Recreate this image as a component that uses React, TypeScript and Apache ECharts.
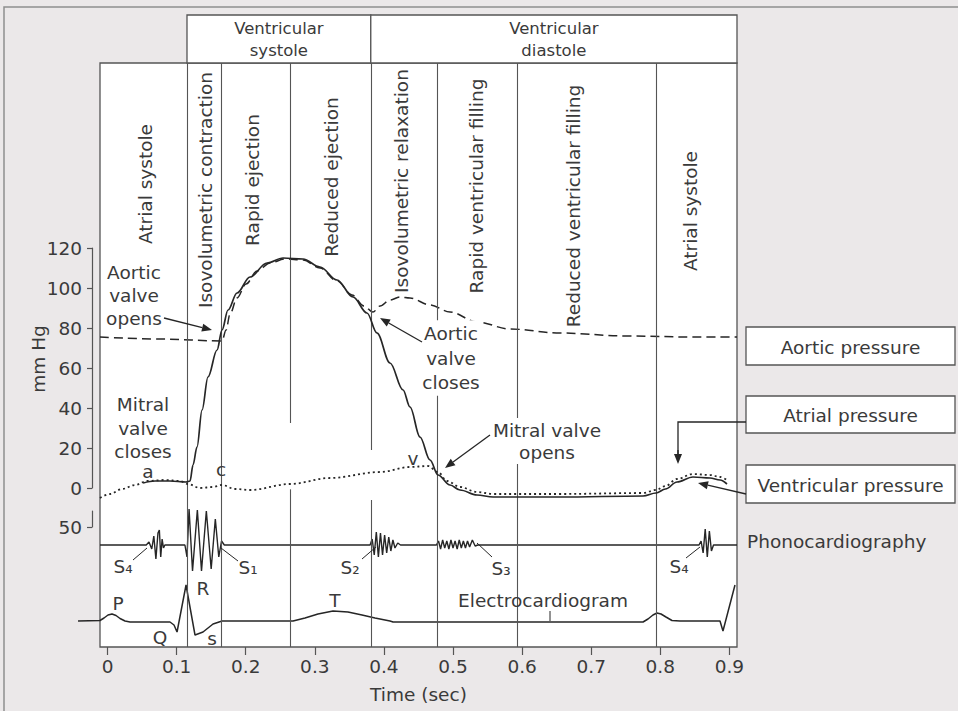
import React, { useEffect, useRef } from "react";
import * as echarts from "echarts";

// ---------------- data ----------------
const timeTicks = [0, 0.1, 0.2, 0.3, 0.4, 0.5, 0.6, 0.7, 0.8, 0.9];
const phonoScaleTicks = [50];

// pressures in mm Hg, time in seconds
const ventricularPressure: number[][] = [
  [0.0514, 2.5], [0.0687, 3.5], [0.0904, 3.5], [0.1136, 3], [0.1194, 3.5], [0.1237, 11.5],
  [0.1295, 20.5], [0.1368, 39], [0.1454, 55.5], [0.1585, 69], [0.1657, 79], [0.1744, 89],
  [0.1874, 97.5], [0.2062, 105.5], [0.2308, 112.5], [0.254, 115], [0.2829, 114.5], [0.3075, 110.5],
  [0.3321, 104], [0.3553, 95.5], [0.3755, 87.5], [0.39, 77.5], [0.4088, 62.5], [0.4277, 49],
  [0.4378, 40.5], [0.4522, 25.5], [0.4667, 14], [0.4783, 6.5], [0.4957, 1.5], [0.5101, -1],
  [0.5347, -3.5], [0.5579, -4.5], [0.6549, -4.5], [0.775, -4], [0.7938, -2.5], [0.8075, -0.5],
  [0.8242, 3], [0.8473, 5.5], [0.8719, 5], [0.8864, 4], [0.8965, 2],
];

const aorticPressure: number[][] = [
  [-0.0109, 75.5], [0.076, 74.5], [0.1657, 73.5], [0.1715, 79], [0.1773, 87], [0.1874, 95],
  [0.2004, 102], [0.2164, 108.5], [0.2352, 112.5], [0.2569, 114.5], [0.2829, 114], [0.3075, 110],
  [0.3321, 103.5], [0.3538, 96.5], [0.3711, 91], [0.3842, 88], [0.3944, 91], [0.4088, 94],
  [0.4233, 95.5], [0.4378, 95], [0.4667, 91.5], [0.4957, 88], [0.5347, 83], [0.5825, 79.5],
  [0.6549, 77.5], [0.7518, 76], [0.8473, 75.5], [0.911, 75.5],
];

const atrialPressure: number[][] = [
  [-0.0109, -5], [0.0036, -3], [0.021, -0.5], [0.0398, 1.5], [0.0572, 3.5], [0.0832, 4],
  [0.1049, 3.5], [0.1165, 2], [0.1339, 0], [0.1527, 0.5], [0.1657, 1.5], [0.1845, -0.5],
  [0.2062, -1], [0.2641, 2], [0.322, 5], [0.3944, 8], [0.4378, 10.5], [0.4638, 11],
  [0.4783, 8], [0.4913, 3.5], [0.5101, 0.5], [0.5347, -2], [0.5579, -3], [0.6549, -3],
  [0.775, -2.5], [0.7938, -1], [0.8075, 1], [0.8242, 4.5], [0.8473, 7], [0.8719, 6.5],
  [0.8864, 5.5], [0.8965, 4],
];

// phonocardiogram amplitude (arbitrary units)
const phonocardiogram: number[][] = [
  [-0.0109, 0],
  [0.056, 0], [0.06, 3], [0.064, -4], [0.067, 9], [0.07, -14], [0.073, 12], [0.075, 15], [0.077, -12], [0.079, 6], [0.081, -3], [0.083, 0],
  [0.112, 0], [0.115, -12], [0.118, 36], [0.123, -26], [0.13, 35], [0.136, -26], [0.143, 34], [0.15, -24], [0.156, 26], [0.161, -12], [0.165, 4], [0.169, 0],
  [0.38, 0], [0.383, 6], [0.386, -10], [0.389, 13], [0.392, -12], [0.395, 12], [0.398, -10], [0.401, 10], [0.404, -8], [0.407, 8], [0.41, -6], [0.413, 5], [0.416, -3], [0.42, 2], [0.424, 0],
  [0.476, 0], [0.479, 4], [0.482, -4], [0.485, 5], [0.488, -3], [0.491, 4], [0.494, -4], [0.497, 5], [0.5, -3], [0.503, 4], [0.506, -4], [0.509, 5], [0.512, -3], [0.515, 4], [0.518, -3], [0.521, 4], [0.524, -2], [0.528, 5], [0.532, -1], [0.536, 0],
  [0.856, 0], [0.859, 4], [0.862, -8], [0.865, 16], [0.868, -12], [0.871, 14], [0.874, -6], [0.877, 0],
  [0.911, 0],
];

// electrocardiogram amplitude (arbitrary units)
const electrocardiogram: number[][] = [
  [-0.0427, 0], [-0.0109, 0.5], [-0.0051, 3], [0.0007, 6], [0.0065, 7], [0.0123, 5.5], [0.0181, 2.5],
  [0.0253, 0], [0.0326, -1], [0.0904, -1], [0.0962, -4], [0.1006, -11], [0.1136, 36], [0.1266, -14],
  [0.1382, -11], [0.1527, -3], [0.1657, 0], [0.2685, 0], [0.2858, 3], [0.3046, 7], [0.3263, 10],
  [0.348, 9], [0.3683, 6], [0.3871, 3], [0.4088, 0], [0.4132, -1], [0.775, -1], [0.7822, 2],
  [0.7894, 6], [0.7952, 8], [0.801, 7], [0.8082, 4], [0.8169, 0.5], [0.8285, 0], [0.8864, 0],
  [0.8907, -10], [0.9081, 36],
];

// phase boundaries: [time, from (0 = bottom of panel), to (1 = top of panel)]
const phaseBoundaries: number[][] = [
  [0.115, 0, 1], [0.164, 0, 1], [0.264, 0.3836, 1], [0.264, 0, 0.27], [0.381, 0.3373, 1],
  [0.381, 0, 0.2517], [0.477, 0, 1], [0.593, 0, 1], [0.794, 0, 1],
];

// cycle headers: [start, end, label]
const cycleHeaders: [number, number, string][] = [
  [0.115, 0.381, "Ventricular\nsystole"],
  [0.381, 0.911, "Ventricular\ndiastole"],
];

const phaseNames = [
  "Atrial systole",
  "Isovolumetric contraction",
  "Rapid ejection",
  "Reduced ejection",
  "Isovolumetric relaxation",
  "Rapid ventricular filling",
  "Reduced ventricular filling",
  "Atrial systole",
];

const seriesNames = ["Aortic pressure", "Atrial pressure", "Ventricular pressure"];

// ---------------- layout ----------------
const FONT = '"DejaVu Sans", sans-serif';
const TXT = "#3a3a3a";
const INK = "#262626";
const BORDER = "#555";
const FS = 18.5;
const X_MIN = -0.0109;
const X_MAX = 0.911;
const G_LEFT = 100;
const G_WIDTH = 637;
const PX_PER_SEC = G_WIDTH / (X_MAX - X_MIN);
// the ECG trace starts left of the panel, so its grid is widened to the left
const ECG_MIN = -0.0427;
const ECG_LEFT = G_LEFT - (X_MIN - ECG_MIN) * PX_PER_SEC;
const ECG_WIDTH = G_WIDTH + (G_LEFT - ECG_LEFT);

const phaseLabelPos = [
  [145, 184], [205, 190], [252, 180], [331, 177], [401, 181], [476, 186], [573, 206], [690, 211],
];

function txt(text: string, x: number, y: number, extra: any = {}, styleExtra: any = {}) {
  return {
    type: "text",
    x,
    y,
    z: 100,
    ...extra,
    style: {
      text,
      fill: TXT,
      fontSize: FS,
      fontFamily: FONT,
      align: "center",
      verticalAlign: "middle",
      ...styleExtra,
    },
  };
}

function seg(x1: number, y1: number, x2: number, y2: number, w = 1.3) {
  return { type: "line", z: 100, shape: { x1, y1, x2, y2 }, style: { stroke: INK, lineWidth: w } };
}

function arrow(x1: number, y1: number, x2: number, y2: number, head = 10, half = 4) {
  const a = Math.atan2(y2 - y1, x2 - x1);
  const c = Math.cos(a);
  const s = Math.sin(a);
  const bx = x2 - head * c;
  const by = y2 - head * s;
  return [
    seg(x1, y1, bx, by),
    {
      type: "polygon",
      z: 100,
      shape: { points: [[x2, y2], [bx - s * half, by + c * half], [bx + s * half, by - c * half]] },
      style: { fill: INK },
    },
  ];
}

function box(x: number, y: number, w: number, h: number, label: string) {
  return [
    { type: "rect", z: 90, shape: { x, y, width: w, height: h }, style: { fill: "#fff", stroke: BORDER, lineWidth: 1.3 } },
    txt(label, x + w / 2, y + h / 2 + 1),
  ];
}

function buildOption(): any {
  const hiddenX = (i: number, min = X_MIN) => ({ type: "value", gridIndex: i, min, max: X_MAX, show: false });
  const labelFont = { color: TXT, fontSize: FS, fontFamily: FONT };

  const graphic: any[] = [
    { type: "rect", z: 1, shape: { x: 4, y: 7, width: 1000, height: 800 }, style: { fill: "none", stroke: "#8e8e8e", lineWidth: 1.5 } },
    ...phaseNames.map((n, i) => txt(n, phaseLabelPos[i][0], phaseLabelPos[i][1], { rotation: Math.PI / 2 })),
    txt("Aortic\nvalve\nopens", 134, 295, {}, { lineHeight: 23 }),
    ...arrow(164, 318, 212, 330),
    txt("Mitral\nvalve\ncloses", 143, 428, {}, { lineHeight: 23.5 }),
    txt("a", 148, 471),
    txt("c", 221, 469),
    txt("Aortic\nvalve\ncloses", 451, 358, {}, { lineHeight: 24.5, backgroundColor: "#fff", padding: [1, 2] }),
    ...arrow(422, 342, 380, 318),
    txt("v", 413, 458),
    txt("Mitral valve\nopens", 547, 441, {}, { lineHeight: 22, backgroundColor: "#fff", padding: [1, 2] }),
    ...arrow(490, 435, 445, 468),
    ...box(746, 327, 209, 38, seriesNames[0]),
    ...box(746, 396, 209, 37, seriesNames[1]),
    ...box(746, 465, 209, 38, seriesNames[2]),
    { type: "polyline", z: 100, shape: { points: [[746, 422], [678, 422], [678, 454]] }, style: { stroke: INK, lineWidth: 1.3, fill: "none" } },
    ...arrow(678, 450, 678, 464),
    ...arrow(746, 494, 698, 483),
    txt("Phonocardiography", 747, 541, {}, { align: "left" }),
    txt("S\u2084", 123, 566),
    seg(133, 560, 147, 548, 1),
    txt("S\u2081", 248, 567),
    seg(221, 548, 238, 561, 1),
    txt("S\u2082", 350, 567),
    seg(362, 559, 376, 547, 1),
    txt("S\u2083", 501, 568),
    seg(477, 543, 492, 557, 1),
    txt("S\u2084", 679, 566),
    seg(686, 558, 700, 547, 1),
    txt("P", 118, 603),
    txt("Q", 160, 637),
    txt("R", 203, 588),
    txt("s", 212, 638),
    txt("T", 335, 600),
    txt("Electrocardiogram", 543, 600),
    seg(550, 611, 550, 621, 1),
  ];

  return {
    animation: false,
    backgroundColor: "#ebe8e9",
    textStyle: { fontFamily: FONT },
    grid: [
      { left: G_LEFT, top: 63, width: G_WIDTH, height: 584, show: true, backgroundColor: "#fff", borderColor: BORDER, borderWidth: 1.3 },
      { left: G_LEFT, top: 248, width: G_WIDTH, height: 240 },
      { left: G_LEFT, top: 495, width: G_WIDTH, height: 100 },
      { left: ECG_LEFT, top: 571, width: ECG_WIDTH, height: 100 },
      { left: G_LEFT, top: 511, width: G_WIDTH, height: 16 },
      { left: G_LEFT, top: 15, width: G_WIDTH, height: 48 },
    ],
    xAxis: [
      {
        type: "value",
        gridIndex: 0,
        min: X_MIN,
        max: X_MAX,
        axisLine: { show: false, onZero: false },
        splitLine: { show: false },
        axisTick: { show: true, customValues: timeTicks, length: 8, lineStyle: { color: BORDER, width: 1.2 } },
        axisLabel: {
          ...labelFont,
          customValues: timeTicks,
          margin: 10,
          formatter: (v: number) => (v === 0 ? "0" : v.toFixed(1)),
        },
        name: "Time (sec)",
        nameLocation: "middle",
        nameGap: 38,
        nameTextStyle: labelFont,
      },
      hiddenX(1),
      hiddenX(2),
      hiddenX(3, ECG_MIN),
      hiddenX(4),
      hiddenX(5),
    ],
    yAxis: [
      { type: "value", gridIndex: 0, min: 0, max: 1, show: false },
      {
        type: "value",
        gridIndex: 1,
        min: 0,
        max: 120,
        interval: 20,
        offset: 8,
        axisLine: { show: true, onZero: false, lineStyle: { color: BORDER, width: 1.2 } },
        axisTick: { show: true, length: 5, lineStyle: { color: BORDER, width: 1.2 } },
        axisLabel: { ...labelFont, margin: 10 },
        splitLine: { show: false },
        name: "mm Hg",
        nameLocation: "middle",
        nameRotate: 90,
        nameGap: 44,
        nameMoveOverlap: false,
        nameTextStyle: { ...labelFont, padding: [0, 0, 0, 18] },
      },
      { type: "value", gridIndex: 2, min: -50, max: 50, show: false },
      { type: "value", gridIndex: 3, min: -50, max: 50, show: false },
      {
        type: "value",
        gridIndex: 4,
        min: 0,
        max: 50,
        inverse: true,
        offset: 8,
        axisLine: { show: true, onZero: false, lineStyle: { color: BORDER, width: 1.2 } },
        axisTick: { show: true, customValues: phonoScaleTicks, length: 5, lineStyle: { color: BORDER, width: 1.2 } },
        axisLabel: { ...labelFont, margin: 10, customValues: phonoScaleTicks },
        splitLine: { show: false },
      },
      { type: "value", gridIndex: 5, min: 0, max: 1, show: false },
    ],
    graphic,
    series: [
      {
        type: "line",
        name: "phases",
        xAxisIndex: 0,
        yAxisIndex: 0,
        data: [],
        silent: true,
        markLine: {
          silent: true,
          symbol: ["none", "none"],
          label: { show: false },
          lineStyle: { color: BORDER, width: 1.1, type: "solid" },
          data: phaseBoundaries.map(([t, a, b]) => [{ coord: [t, a] }, { coord: [t, b] }]),
        },
      },
      {
        type: "line",
        name: "cycle",
        xAxisIndex: 5,
        yAxisIndex: 5,
        data: [],
        silent: true,
        markArea: {
          silent: true,
          itemStyle: { color: "#fff", borderColor: BORDER, borderWidth: 1.3 },
          label: { show: true, position: "inside", color: TXT, fontSize: 16.5, lineHeight: 22, fontFamily: FONT },
          data: cycleHeaders.map(([a, b, name]) => [{ xAxis: a, yAxis: 0, name }, { xAxis: b, yAxis: 1 }]),
        },
      },
      {
        type: "line",
        name: seriesNames[2],
        xAxisIndex: 1,
        yAxisIndex: 1,
        data: ventricularPressure,
        symbol: "none",
        clip: false,
        smooth: 0.35,
        smoothMonotone: "x",
        lineStyle: { color: INK, width: 1.7 },
        z: 5,
      },
      {
        type: "line",
        name: seriesNames[0],
        xAxisIndex: 1,
        yAxisIndex: 1,
        data: aorticPressure,
        symbol: "none",
        clip: false,
        smooth: 0.35,
        smoothMonotone: "x",
        lineStyle: { color: INK, width: 1.5, type: [9, 5] },
        z: 4,
      },
      {
        type: "line",
        name: seriesNames[1],
        xAxisIndex: 1,
        yAxisIndex: 1,
        data: atrialPressure,
        symbol: "none",
        clip: false,
        smooth: 0.35,
        smoothMonotone: "x",
        lineStyle: { color: INK, width: 1.8, type: [2, 3] },
        z: 6,
      },
      {
        type: "line",
        name: "Phonocardiography",
        xAxisIndex: 2,
        yAxisIndex: 2,
        data: phonocardiogram,
        symbol: "none",
        clip: false,
        lineStyle: { color: INK, width: 1.4 },
      },
      {
        type: "line",
        name: "Electrocardiogram",
        xAxisIndex: 3,
        yAxisIndex: 3,
        data: electrocardiogram,
        symbol: "none",
        clip: false,
        lineStyle: { color: INK, width: 1.5 },
      },
    ],
  };
}

export default function App() {
  const ref = useRef<HTMLDivElement>(null);
  useEffect(() => {
    if (!ref.current) return;
    const chart = echarts.init(ref.current, undefined, { renderer: "svg" });
    chart.setOption(buildOption());
    return () => chart.dispose();
  }, []);
  return (
    <div
      ref={ref}
      style={{ position: "fixed", left: 0, top: 0, width: 958, height: 711 }}
    />
  );
}
